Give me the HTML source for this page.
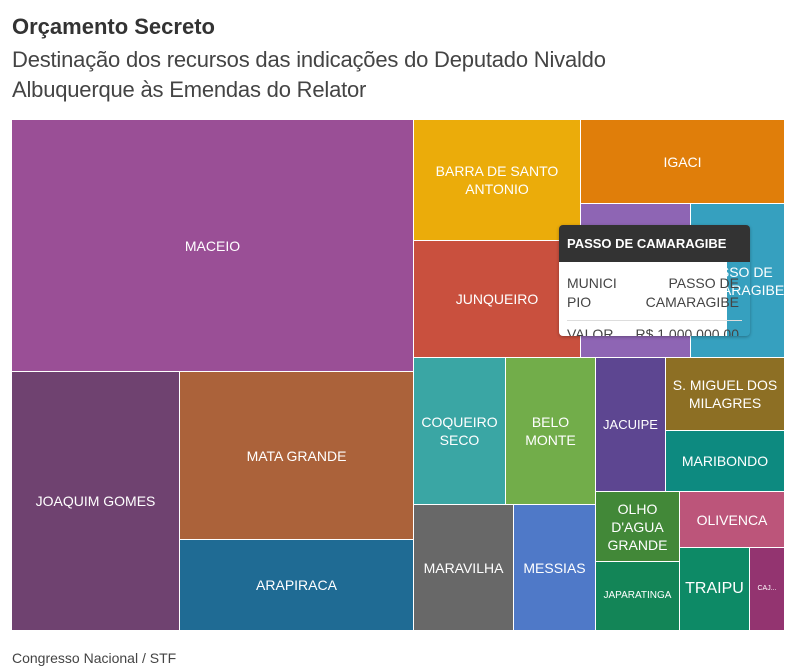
<!DOCTYPE html>
<html><head><meta charset="utf-8"><style>
body{margin:0;width:796px;height:659px;overflow:hidden;background:#fff;font-family:"Liberation Sans",sans-serif;position:relative}
.t1{position:absolute;left:12px;top:14px;font-size:22px;font-weight:bold;color:#333}
.t2{position:absolute;left:12px;top:45px;font-size:22px;color:#444;line-height:30px;width:700px;letter-spacing:-0.2px}
.r{position:absolute;display:flex;align-items:center;justify-content:center;text-align:center;color:#fff;font-size:14px;line-height:18px;box-sizing:border-box;overflow:hidden}
.src{position:absolute;left:12px;top:650px;font-size:14px;color:#444}
</style></head><body>
<div class="t1">Orçamento Secreto</div>
<div class="t2">Destinação dos recursos das indicações do Deputado Nivaldo Albuquerque às Emendas do Relator</div>
<div class="r" style="left:12px;top:120px;width:401px;height:251px;background:#9a4f96">MACEIO</div>
<div class="r" style="left:12px;top:372px;width:167px;height:258px;background:#6f4270">JOAQUIM GOMES</div>
<div class="r" style="left:180px;top:372px;width:233px;height:167px;background:#ab623a">MATA GRANDE</div>
<div class="r" style="left:180px;top:540px;width:233px;height:90px;background:#1f6b94">ARAPIRACA</div>
<div class="r" style="left:414px;top:120px;width:166px;height:120px;background:#ebac0a">BARRA DE SANTO<br>ANTONIO</div>
<div class="r" style="left:581px;top:120px;width:203px;height:83px;background:#e07e0a">IGACI</div>
<div class="r" style="left:414px;top:241px;width:166px;height:116px;background:#c9503e">JUNQUEIRO</div>
<div class="r" style="left:581px;top:204px;width:109px;height:153px;background:#8e65b4"></div>
<div class="r" style="left:691px;top:204px;width:93px;height:153px;background:#36a0bf">PASSO DE<br>CAMARAGIBE</div>
<div class="r" style="left:414px;top:358px;width:91px;height:146px;background:#3aa6a4">COQUEIRO<br>SECO</div>
<div class="r" style="left:506px;top:358px;width:89px;height:146px;background:#72ad4a">BELO<br>MONTE</div>
<div class="r" style="left:596px;top:358px;width:69px;height:133px;background:#5d4691;font-size:13px">JACUIPE</div>
<div class="r" style="left:666px;top:358px;width:118px;height:72px;background:#8d6f24">S. MIGUEL DOS<br>MILAGRES</div>
<div class="r" style="left:666px;top:431px;width:118px;height:60px;background:#0d8a80">MARIBONDO</div>
<div class="r" style="left:414px;top:505px;width:99px;height:125px;background:#686868">MARAVILHA</div>
<div class="r" style="left:514px;top:505px;width:81px;height:125px;background:#4f79c8">MESSIAS</div>
<div class="r" style="left:596px;top:492px;width:83px;height:69px;background:#428838">OLHO<br>D'AGUA<br>GRANDE</div>
<div class="r" style="left:596px;top:562px;width:83px;height:68px;background:#138557;font-size:10px">JAPARATINGA</div>
<div class="r" style="left:680px;top:492px;width:104px;height:55px;background:#bc557a">OLIVENCA</div>
<div class="r" style="left:680px;top:548px;width:69px;height:82px;background:#0d8a66;font-size:16px">TRAIPU</div>
<div class="r" style="left:750px;top:548px;width:34px;height:82px;background:#933470;font-size:7px">CAJ...</div>
<div style="position:absolute;left:559px;top:225px;width:191px;height:111px;border-radius:4px;overflow:hidden;box-shadow:0 1px 3px rgba(0,0,0,.3)">
<div style="background:#333;color:#fff;font-weight:bold;font-size:13px;height:37px;line-height:37px;padding-left:8px">PASSO DE CAMARAGIBE</div>
<div style="position:absolute;left:0;top:37px;width:168px;height:74px;background:#fff"></div>
<div style="position:absolute;left:8px;top:49px;font-size:14px;color:#444;line-height:19px">MUNICI<br>PIO</div>
<div style="position:absolute;right:11px;top:49px;font-size:14px;color:#444;line-height:19px;text-align:right">PASSO DE<br>CAMARAGIBE</div>
<div style="position:absolute;left:8px;top:95px;width:175px;border-top:1px solid #ddd"></div>
<div style="position:absolute;left:8px;top:101px;font-size:14px;color:#444">VALOR</div>
<div style="position:absolute;right:11px;top:101px;font-size:14px;color:#444">R$ 1 000 000,00</div>
</div>
<div class="src">Congresso Nacional / STF</div>
</body></html>
